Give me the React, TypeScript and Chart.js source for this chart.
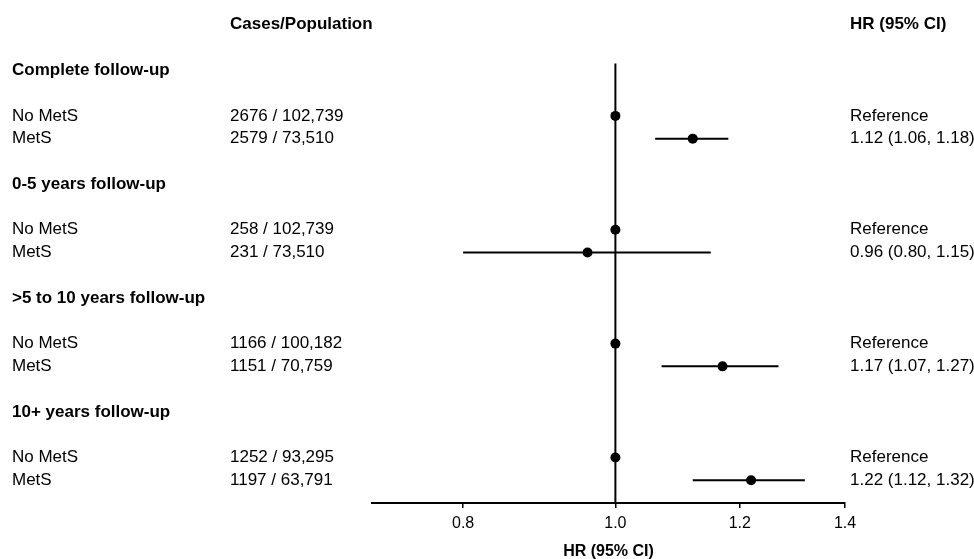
import React, { useEffect, useRef } from "react";
import { Chart, registerables } from "chart.js";

Chart.register(...registerables);

// ---------- data ----------
const groupTitles = [
  "Complete follow-up",
  "0-5 years follow-up",
  ">5 to 10 years follow-up",
  "10+ years follow-up",
];
const rowLabels = ["No MetS", "MetS"];
const casesNoMets = ["2676 / 102,739", "258 / 102,739", "1166 / 100,182", "1252 / 93,295"];
const casesMets = ["2579 / 73,510", "231 / 73,510", "1151 / 70,759", "1197 / 63,791"];
const hrMets = [1.12, 0.96, 1.17, 1.22];
const ciLowMets = [1.06, 0.8, 1.07, 1.12];
const ciHighMets = [1.18, 1.15, 1.27, 1.32];
const hrNoMets = [1.0, 1.0, 1.0, 1.0];
const hrTextNoMets = ["Reference", "Reference", "Reference", "Reference"];
const hrTextMets = ["1.12 (1.06, 1.18)", "0.96 (0.80, 1.15)", "1.17 (1.07, 1.27)", "1.22 (1.12, 1.32)"];
const tickValues = [0.8, 1.0, 1.2, 1.4];
const tickLabels = ["0.8", "1.0", "1.2", "1.4"];
const colHeaders = ["Cases/Population", "HR (95% CI)"];
const axisTitle = "HR (95% CI)";

// row positions (units from the bottom axis)
const headerRow = 21;
const groupHeaderRows = [19, 14, 9, 4];
const noMetsRows = [17, 12, 7, 2];
const metsRows = [16, 11, 6, 1];
const refLineTop = 19.3;

const FONT = "'Liberation Sans', Arial, sans-serif";

export default function App() {
  const ref = useRef<HTMLCanvasElement | null>(null);

  useEffect(() => {
    const canvas = ref.current;
    if (!canvas) return;

    const datasets: any[] = [];
    // reference line at HR = 1
    datasets.push({
      data: [
        { x: 1.0, y: 0 },
        { x: 1.0, y: refLineTop },
      ],
      showLine: true,
      borderColor: "#000",
      borderWidth: 2,
      pointRadius: 0,
    });
    // CI lines
    for (let i = 0; i < hrMets.length; i++) {
      datasets.push({
        data: [
          { x: ciLowMets[i], y: metsRows[i] },
          { x: ciHighMets[i], y: metsRows[i] },
        ],
        showLine: true,
        borderColor: "#000",
        borderWidth: 2,
        pointRadius: 0,
      });
    }
    // points
    datasets.push({
      data: [
        ...hrNoMets.map((v, i) => ({ x: v, y: noMetsRows[i] })),
        ...hrMets.map((v, i) => ({ x: v, y: metsRows[i] })),
      ],
      showLine: false,
      pointRadius: 5,
      pointBackgroundColor: "#000",
      pointBorderColor: "#000",
      pointBorderWidth: 0,
    });

    const textPlugin = {
      id: "forestText",
      afterDraw(chart: any) {
        const ctx = chart.ctx;
        const y = chart.scales.y;
        const x = chart.scales.x;
        ctx.save();
        ctx.fillStyle = "#000";
        ctx.textBaseline = "middle";
        ctx.textAlign = "left";
        const colLabel = 12;
        const colCases = 230;
        const colHr = 850;
        ctx.font = `bold 17px ${FONT}`;
        ctx.fillText(colHeaders[0], colCases, y.getPixelForValue(headerRow));
        ctx.fillText(colHeaders[1], colHr, y.getPixelForValue(headerRow));
        for (let i = 0; i < groupTitles.length; i++) {
          ctx.font = `bold 17px ${FONT}`;
          ctx.fillText(groupTitles[i], colLabel, y.getPixelForValue(groupHeaderRows[i]));
          ctx.font = `17px ${FONT}`;
          const yn = y.getPixelForValue(noMetsRows[i]);
          const ym = y.getPixelForValue(metsRows[i]);
          ctx.fillText(rowLabels[0], colLabel, yn);
          ctx.fillText(rowLabels[1], colLabel, ym);
          ctx.fillText(casesNoMets[i], colCases, yn);
          ctx.fillText(casesMets[i], colCases, ym);
          ctx.fillText(hrTextNoMets[i], colHr, yn);
          ctx.fillText(hrTextMets[i], colHr, ym);
        }
        ctx.font = `bold 16px ${FONT}`;
        ctx.textAlign = "center";
        ctx.fillText(axisTitle, (x.left + x.right) / 2, 552);
        ctx.restore();
      },
    };

    const chart = new Chart(canvas, {
      type: "scatter",
      data: { datasets },
      plugins: [textPlugin],
      options: {
        animation: false,
        responsive: false,
        maintainAspectRatio: false,
        layout: { padding: { left: 372, right: 129, top: 0, bottom: 0 } },
        plugins: {
          legend: { display: false },
          tooltip: { enabled: false },
        },
        scales: {
          x: {
            type: "logarithmic",
            min: 0.7,
            max: 1.4,
            afterBuildTicks: (scale: any) => {
              scale.ticks = tickValues.map((v) => ({ value: v }));
            },
            afterFit: (scale: any) => {
              scale.height = 56;
            },
            ticks: {
              autoSkip: false,
              maxRotation: 0,
              padding: 6,
              color: "#000",
              font: { family: FONT, size: 16 },
              callback: (value: any) => {
                const idx = tickValues.findIndex((t) => Math.abs(t - Number(value)) < 1e-9);
                return idx >= 0 ? tickLabels[idx] : "";
              },
            },
            grid: {
              drawOnChartArea: false,
              drawTicks: true,
              tickLength: 5,
              color: "#000",
              lineWidth: 1.5,
            },
            border: { display: true, color: "#000", width: 2 },
          },
          y: {
            type: "linear",
            display: false,
            min: 0,
            max: 503 / 23,
          },
        },
      },
    });

    return () => chart.destroy();
  }, []);

  return (
    <div style={{ position: "fixed", left: 0, top: 0, width: 974, height: 559, background: "#fff" }}>
      <canvas ref={ref} width={974} height={559} style={{ width: 974, height: 559 }} />
    </div>
  );
}
